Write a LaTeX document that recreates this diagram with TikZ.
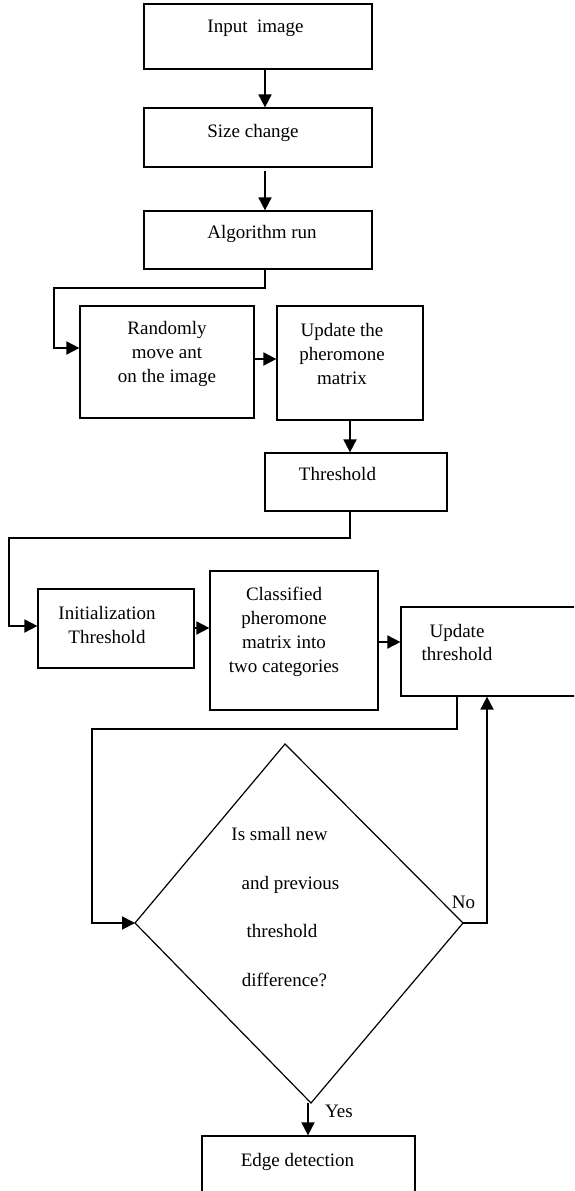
\documentclass[tikz,border=0pt]{standalone}
\usepackage{fontspec}
\setmainfont{Liberation Serif}
\usetikzlibrary{arrows.meta}
\begin{document}
\begin{tikzpicture}[x=1pt,y=-1pt,
  box/.style={draw,line width=1.2pt,inner sep=0pt,minimum width=#1},
  txt/.style={inner sep=0pt,align=center,font=\fontsize{19}{24}\selectfont,text height=13pt,text depth=4pt},
  mtxt/.style={inner sep=0pt,align=center,font=\fontsize{19}{24}\selectfont},
  line/.style={line width=1.8pt},
  arr/.style={line width=1.8pt,-{Triangle[length=13pt,width=13pt]}}]
\useasboundingbox (0,0) rectangle (574,1191);
\begin{scope}
\clip (0,0) rectangle (574,1191);
% boxes
\node[box=228,minimum height=65] (in) at (258,36.5) {};
\node[txt] (inT) at (255.5,28) {Input\ \ image};
\node[box=228,minimum height=59] (sz) at (258,137.5) {};
\node[txt] (szT) at (253,133) {Size change};
\node[box=228,minimum height=58] (alg) at (258,240) {};
\node[txt] (algT) at (262,234) {Algorithm run};
\node[box=174,minimum height=112] (rnd) at (167,362) {};
\node[mtxt] (rndT) at (167,354) {Randomly\\ move ant\\ on the image};
\node[box=146,minimum height=114] (upd) at (350,363) {};
\node[mtxt] (updT) at (342,354) {Update the\\ pheromone\\ matrix};
\node[box=182,minimum height=58] (thr) at (356,482) {};
\node[txt] (thrT) at (337.5,476) {Threshold};
\node[box=156,minimum height=79] (ini) at (116,628.5) {};
\node[mtxt] (iniT) at (107,625) {Initialization\\ Threshold};
\node[box=168,minimum height=139] (cls) at (294,640.5) {};
\node[mtxt] (clsT) at (284,631.5) {Classified\\ pheromone\\ matrix into\\ two categories};
\node[box=198,minimum height=89] (ut) at (500,651.5) {};
\node[inner sep=0pt,align=center,font=\fontsize{19}{23}\selectfont] (utT) at (457,642.5) {Update\\ threshold};
\node[box=213,minimum height=114] (edge) at (308.5,1193) {};
\node[txt] (edgeT) at (297.5,1162) {Edge detection};
% diamond
\coordinate (dT) at (285,744);
\coordinate (dL) at (135,923);
\coordinate (dB) at (311,1103);
\coordinate (dR) at (463,923);
\draw[line width=1.2pt,line join=miter] (dT) -- (dR) -- (dB) -- (dL) -- cycle;
\node[txt] (q1) at (279.5,836) {Is small new};
\node[txt] (q2) at (290.5,885) {and previous};
\node[txt] (q3) at (282,933) {threshold};
\node[txt] (q4) at (284.5,982) {difference?};
\node[txt] (no) at (463.5,904) {No};
\node[txt] (yes) at (339,1113) {Yes};
% connectors
\draw[arr] (in.south -| 265,0) -- (sz.north -| 265,0);
\draw[arr] (265,171) -- (alg.north -| 265,0);
\coordinate (c1) at (54,288);
\draw[arr] (alg.south -| 265,0) |- (c1) |- (rnd.west |- 0,348);
\draw[arr] (rnd.east |- 0,359) -- (upd.west |- 0,359);
\draw[arr] (upd.south -| 350,0) -- (thr.north -| 350,0);
\coordinate (c2) at (9,538);
\draw[arr] (thr.south -| 350,0) |- (c2) |- (ini.west |- 0,626);
\draw[arr] (ini.east |- 0,628) -- (cls.west |- 0,628);
\draw[arr] (cls.east |- 0,642) -- (ut.west |- 0,642);
\coordinate (c3) at (92,729);
\draw[arr] (ut.south -| 457,0) |- (c3) |- (dL);
\coordinate (c4) at (487,923);
\draw[arr] (dR) -- (c4) -- (ut.south -| c4);
\draw[arr] (308,1103) -- (edge.north -| 308,0);
\end{scope}
\end{tikzpicture}
\end{document}
